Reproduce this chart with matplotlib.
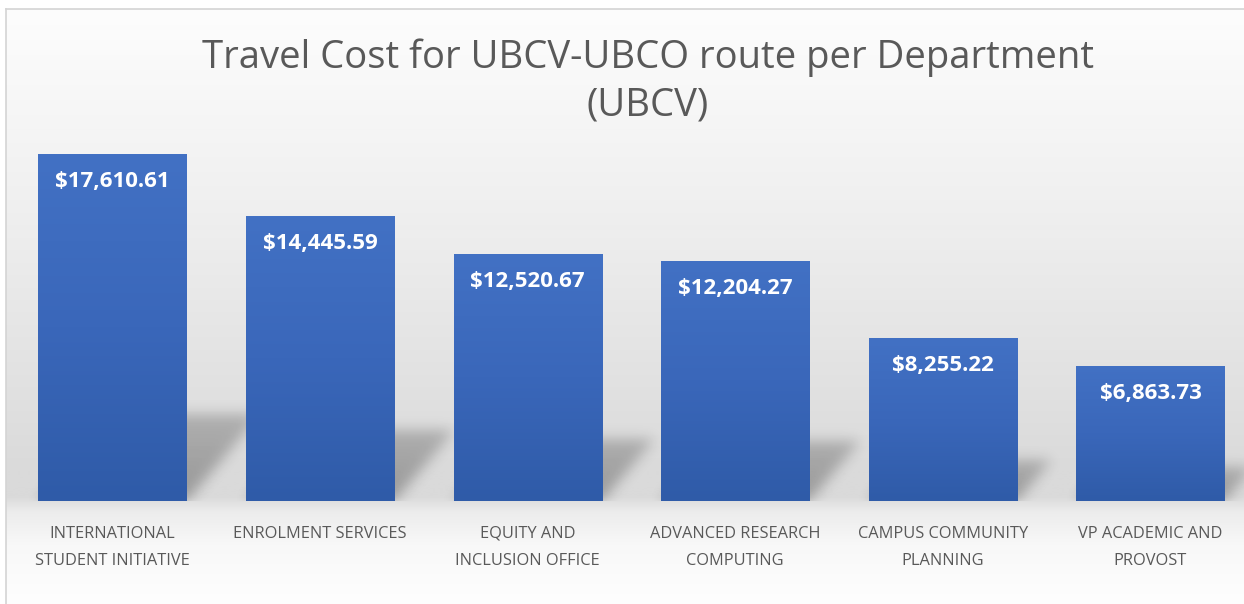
import numpy as np
import matplotlib
matplotlib.use("Agg")
import matplotlib.pyplot as plt
from matplotlib.colors import LinearSegmentedColormap

# ---------------- data ----------------
categories = [
    "INTERNATIONAL\nSTUDENT INITIATIVE",
    "ENROLMENT SERVICES",
    "EQUITY AND\nINCLUSION OFFICE",
    "ADVANCED RESEARCH\nCOMPUTING",
    "CAMPUS COMMUNITY\nPLANNING",
    "VP ACADEMIC AND\nPROVOST",
]
values = [17610.61, 14445.59, 12520.67, 12204.27, 8255.22, 6863.73]
title = "Travel Cost for UBCV-UBCO route per Department\n(UBCV)"

# ---------------- layout constants ----------------
W, H = 1244, 604
STEP = 207.6          # px between bar centres
X0 = 112.5 - STEP / 2  # px left edge of the axes
BASE = 501            # px (from top) of the baseline
YMAX = 20000
PX_PER_UNIT = 347 / 17610.61
AX_H = YMAX * PX_PER_UNIT
BAR_W = 0.713

FONT = ["Open Sans", "DejaVu Sans"]
GRAY_TXT = "#595959"

fig = plt.figure(figsize=(W / 100, H / 100), dpi=100)
fig.patch.set_facecolor("white")

# ---------------- background gradient + frame ----------------
bg = fig.add_axes([0, 0, 1, 1], zorder=0)
ys = np.linspace(9, H, 600)
stops_y = [9, 100, 200, 300, 400, 470, 497, 512, 545, 604]
stops_v = [253, 247, 240, 232, 224, 218, 218, 236, 248, 254]
col = np.interp(ys, stops_y, stops_v) / 255.0
img = np.dstack([np.repeat(col[:, None], 2, axis=1)] * 3)
bg.imshow(img, extent=(6, W + 20, H, 9), aspect="auto", interpolation="bilinear")
bg.plot([6, 6], [9, H], color="#d4d4d4", lw=1.2)
bg.plot([6, W + 20], [9, 9], color="#d4d4d4", lw=1.2)
bg.set_xlim(0, W)
bg.set_ylim(H, 0)
bg.axis("off")

# ---------------- main axes ----------------
ax = fig.add_axes([X0 / W, (H - BASE) / H, 6 * STEP / W, AX_H / H], zorder=1)
ax.patch.set_alpha(0)
x = np.arange(len(values))

# shadows (skewed, blurred copies of each bar)
nx, ny = int(6 * STEP), int(AX_H)
gx = np.linspace(-0.5, 5.5, nx)
gy_px = np.linspace(0, AX_H, ny)
GX, GY = np.meshgrid(gx, gy_px)
mask = np.zeros_like(GX)
K, RATIO = 0.25, 0.85
for xi, v in zip(x, values):
    hs = K * v * PX_PER_UNIT
    off = RATIO * GY / STEP
    inside = (GY <= hs) & (GX >= xi - BAR_W / 2 + off) & (GX <= xi + BAR_W / 2 + off)
    a = 0.30 * (1 - 0.3 * GY / max(hs, 1))
    mask = np.maximum(mask, np.where(inside, a, 0))
sig = 6.5
kr = np.arange(-20, 21)
kern = np.exp(-kr ** 2 / (2 * sig ** 2))
kern /= kern.sum()
mask = np.apply_along_axis(lambda r: np.convolve(r, kern, mode="same"), 1, mask)
mask = np.apply_along_axis(lambda c: np.convolve(c, kern, mode="same"), 0, mask)
shadow = np.zeros((ny, nx, 4))
shadow[..., 3] = mask
ax.imshow(shadow, extent=(-0.5, 5.5, 0, YMAX), origin="lower", aspect="auto",
          zorder=1, interpolation="bilinear")

bars = ax.bar(x, values, width=BAR_W, color="#3a66b8", zorder=2)
cmap = LinearSegmentedColormap.from_list("barg", ["#2f5ba8", "#3a67ba", "#4271c4"])
grad = np.linspace(0, 1, 256)[:, None]
for b in bars:
    im = ax.imshow(grad, cmap=cmap, origin="lower", aspect="auto", zorder=3,
                   extent=(b.get_x(), b.get_x() + b.get_width(), 0, b.get_height()))
    im.set_clip_path(b)

for xi, v in zip(x, values):
    ax.annotate(f"${v:,.2f}", xy=(xi, v), xytext=(0, -17), textcoords="offset pixels",
                ha="center", va="top", color="white", fontsize=16,
                fontweight="bold", family=FONT, zorder=4)

for xi, lab in zip(x, categories):
    for j, line in enumerate(lab.split("\n")):
        ax.annotate(line, xy=(xi, 0), xytext=(0, -37 - 27 * j), textcoords="offset pixels",
                    ha="center", va="baseline", color=GRAY_TXT, fontsize=11.8,
                    family=FONT, zorder=4)

ax.set_xlim(-0.5, 5.5)
ax.set_ylim(0, YMAX)
ax.axis("off")

fig.text(648 / W, 1 - 38 / H, title, ha="center", va="top", color=GRAY_TXT,
         fontsize=27.5, family=FONT, linespacing=1.33)

fig.savefig("out.png", dpi=100, facecolor="white")
